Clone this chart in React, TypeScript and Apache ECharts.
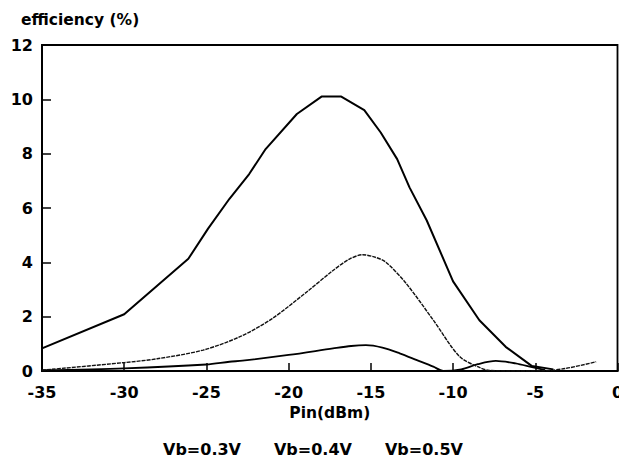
import React, { useEffect, useRef } from "react";
import * as echarts from "echarts";

const seriesNames = ["Vb=0.3V", "Vb=0.4V", "Vb=0.5V"];

// Vb=0.3V (lowest curve)
const vb03: [number, number][] = [
  [-35, 0.03], [-30, 0.1], [-25, 0.24], [-23.6, 0.34], [-22.8, 0.38], [-20, 0.59],
  [-17.3, 0.83], [-16.2, 0.92], [-15.3, 0.95], [-14.3, 0.86], [-13.25, 0.65], [-12.2, 0.4],
  [-11.2, 0.16], [-10.6, 0.0], [-9.5, 0.06], [-8.5, 0.25], [-7.4, 0.37], [-6.2, 0.28],
  [-5.2, 0.14], [-4.4, 0.03],
];

// Vb=0.4V (middle curve)
const vb04: [number, number][] = [
  [-35, 0.03], [-30, 0.31], [-28, 0.45], [-25.2, 0.77], [-22.9, 1.28], [-21, 1.93],
  [-18.9, 2.91], [-17.3, 3.7], [-16.3, 4.12], [-15.5, 4.28], [-14.8, 4.2], [-14.1, 4.01],
  [-12.85, 3.22], [-11.2, 1.87], [-9.6, 0.53], [-8.4, 0.13], [-7.8, 0.02], [-6, 0.0],
  [-4.5, 0.01], [-3.1, 0.1], [-1.3, 0.34],
];

// Vb=0.5V (highest curve)
const vb05: [number, number][] = [
  [-35, 0.83], [-30, 2.09], [-26.1, 4.13], [-24.9, 5.24], [-23.6, 6.34], [-22.4, 7.25],
  [-21.4, 8.17], [-19.5, 9.46], [-18, 10.1], [-16.8, 10.1], [-15.4, 9.6], [-14.4, 8.78],
  [-13.4, 7.8], [-12.65, 6.76], [-11.6, 5.54], [-10, 3.3], [-8.4, 1.87], [-6.8, 0.89],
  [-5.2, 0.18], [-3.9, 0.06],
];

const xTicks = { min: -35, max: 0, interval: 5 };
const yTicks = { min: 0, max: 12, interval: 2 };

export default function App() {
  const ref = useRef<HTMLDivElement>(null);
  useEffect(() => {
    if (!ref.current) return;
    const chart = echarts.init(ref.current, undefined, { renderer: "svg" });
    const font = "'DejaVu Sans', Verdana, sans-serif";
    chart.setOption({
      animation: false,
      backgroundColor: "#ffffff",
      textStyle: { fontFamily: font },
      grid: {
        left: 42, right: 1.5, top: 45, bottom: 96,
        outerBoundsMode: "none",
        containLabel: false,
        show: true, borderColor: "#000", borderWidth: 1.8, backgroundColor: "transparent",
      },
      legend: {
        data: seriesNames,
        bottom: 5,
        left: 153,
        icon: "none",
        itemWidth: 0,
        itemGap: 28,
        selectedMode: false,
        textStyle: { fontFamily: font, fontWeight: "bold", fontSize: 16, color: "#000" },
      },
      graphic: [
        {
          type: "text", left: 21, top: 12,
          style: { text: "efficiency (%)", fontFamily: font, fontWeight: "bold", fontSize: 15.5, fill: "#000" },
        },
      ],
      xAxis: {
        type: "value",
        min: xTicks.min, max: xTicks.max, interval: xTicks.interval,
        name: "Pin(dBm)",
        nameLocation: "middle",
        nameGap: 33,
        nameTextStyle: { fontFamily: font, fontWeight: "bold", fontSize: 15.5, color: "#000" },
        axisLine: { show: true, onZero: false, lineStyle: { color: "#000", width: 2 } },
        axisTick: { show: true, inside: true, length: 8, lineStyle: { color: "#000", width: 1.5 } },
        axisLabel: {
          color: "#000", fontFamily: font, fontWeight: "bold", fontSize: 16, margin: 13,
          alignMaxLabel: "center", alignMinLabel: "center",
        },
        splitLine: { show: false },
      },
      yAxis: {
        type: "value",
        min: yTicks.min, max: yTicks.max, interval: yTicks.interval,
        axisLine: { show: true, onZero: false, lineStyle: { color: "#000", width: 2 } },
        axisTick: { show: true, inside: true, length: 9, lineStyle: { color: "#000", width: 1.5 } },
        axisLabel: { color: "#000", fontFamily: font, fontWeight: "bold", fontSize: 16, margin: 9 },
        splitLine: { show: false },
      },
      series: [
        {
          name: seriesNames[0], type: "line", data: vb03, smooth: 0.3, symbol: "none",
          lineStyle: { color: "#000", width: 1.8 },
        },
        {
          name: seriesNames[1], type: "line", data: vb04, smooth: 0.3, symbol: "none",
          lineStyle: { color: "#111", width: 1.4, type: [4, 1] },
        },
        {
          name: seriesNames[2], type: "line", data: vb05, smooth: false, symbol: "none",
          lineStyle: { color: "#000", width: 2 },
        },
      ],
    });
    return () => chart.dispose();
  }, []);
  return (
    <div
      ref={ref}
      style={{ position: "fixed", left: 0, top: 0, width: 619, height: 467, background: "#fff" }}
    />
  );
}
